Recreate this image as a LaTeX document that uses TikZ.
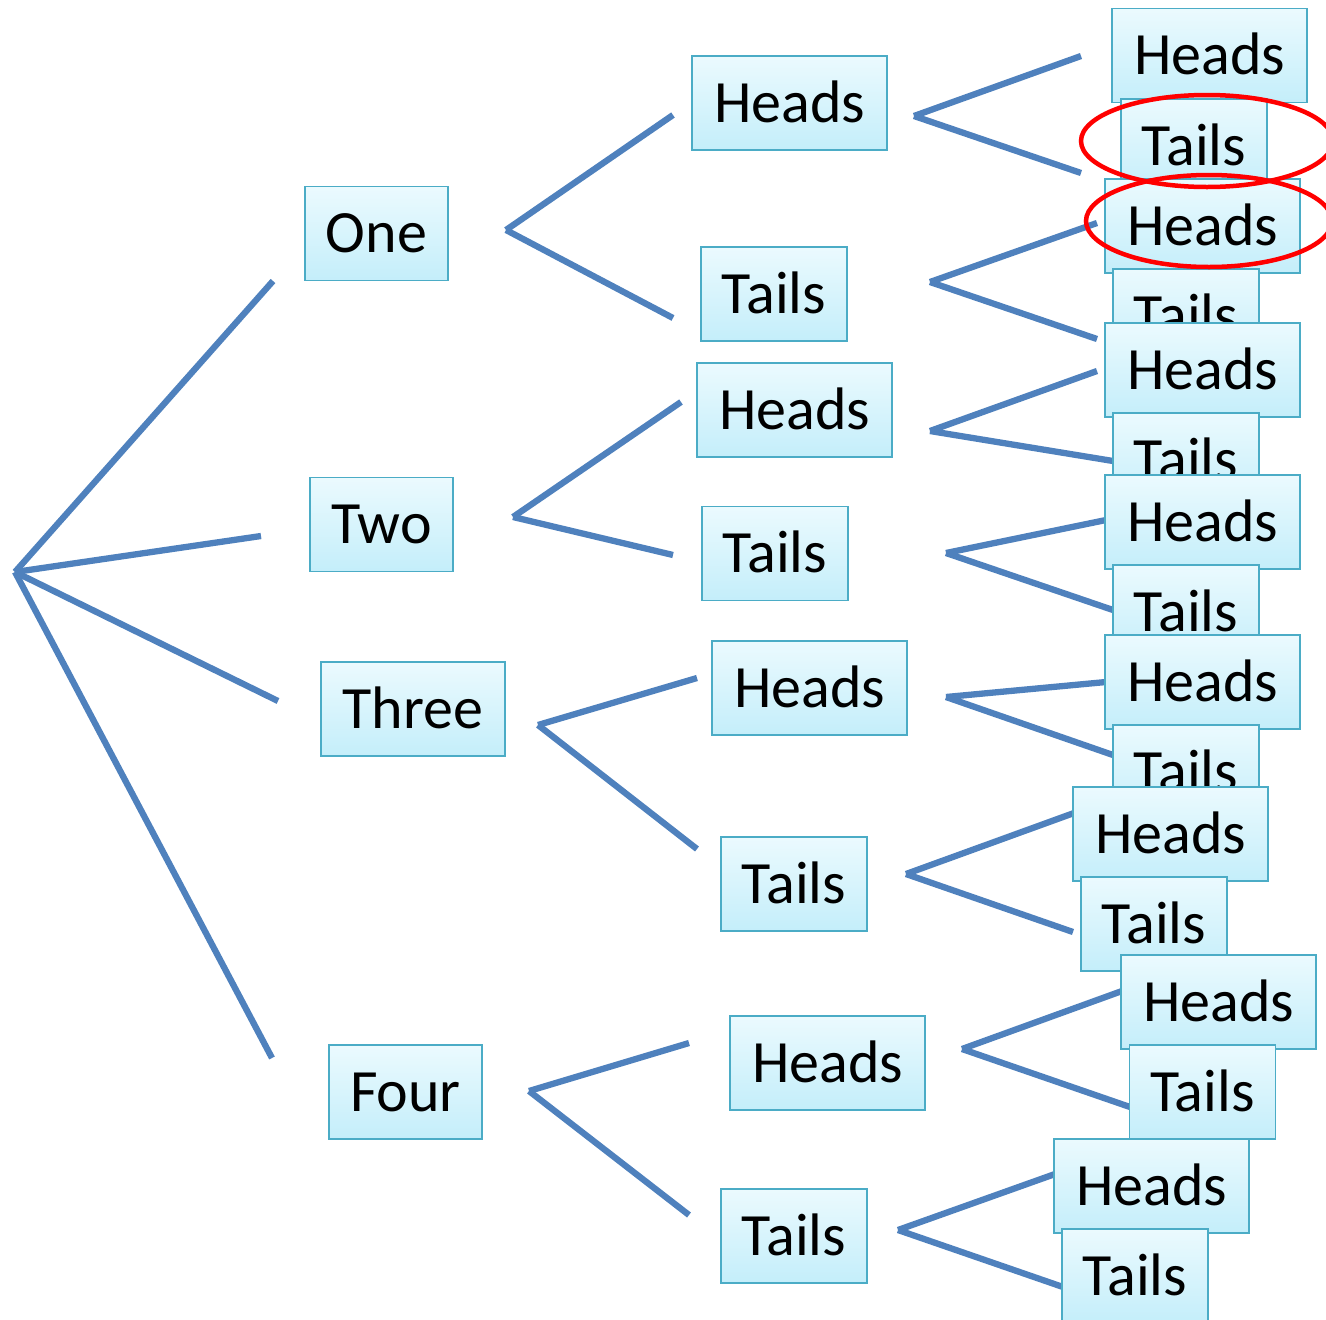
\documentclass[tikz,border=0pt]{standalone}
\usepackage{fontspec}
\setmainfont{Carlito}
\usetikzlibrary{shapes.geometric}
\definecolor{linec}{HTML}{4F81BD}
\definecolor{boxborder}{HTML}{4BACC6}
\definecolor{boxtop}{HTML}{EBFAFE}
\definecolor{boxbot}{HTML}{C4EEFA}
\tikzset{
  box/.style={draw=boxborder, line width=1.8pt, top color=boxtop, bottom color=boxbot,
    inner sep=0pt, minimum height=94pt, font=\fontsize{60}{72}\selectfont,
    text height=38pt, text depth=0pt},
  hbox/.style={box, minimum width=195pt},
  tbox/.style={box, minimum width=146pt},
  branch/.style={draw=linec, line width=6.3pt},
  mark ring/.style={ellipse, draw=red, line width=4.5pt, inner sep=0pt}
}
\begin{document}
\begin{tikzpicture}[x=1pt,y=-1pt]
\useasboundingbox (0,0) rectangle (1326,1320);
% coordinates for the branches
\coordinate (root) at (15,572);
\coordinate (r1) at (273,281);
\coordinate (r2) at (261,536);
\coordinate (r3) at (278,701);
\coordinate (r4) at (272,1058);
\coordinate (p1) at (506,230);  \coordinate (p1a) at (673,115);  \coordinate (p1b) at (673,318);
\coordinate (p2) at (513,517);  \coordinate (p2a) at (681,402);  \coordinate (p2b) at (673,555);
\coordinate (p3) at (538,725);  \coordinate (p3a) at (697,678);  \coordinate (p3b) at (697,849);
\coordinate (p4) at (529,1091); \coordinate (p4a) at (689,1043); \coordinate (p4b) at (689,1215);
\coordinate (q1) at (914,116);  \coordinate (q1a) at (1081,56);  \coordinate (q1b) at (1081,173);
\coordinate (q2) at (930,282);  \coordinate (q2a) at (1097,223); \coordinate (q2b) at (1097,339);
\coordinate (q3) at (930,431);  \coordinate (q3a) at (1097,371); \coordinate (q3b) at (1113,461);
\coordinate (q4) at (946,553);  \coordinate (q4a) at (1106,520); \coordinate (q4b) at (1113,610);
\coordinate (q5) at (946,697);  \coordinate (q5a) at (1106,682); \coordinate (q5b) at (1113,755);
\coordinate (q6) at (906,874);  \coordinate (q6a) at (1074,813); \coordinate (q6b) at (1073,932);
\coordinate (q7) at (962,1049); \coordinate (q7a) at (1122,991); \coordinate (q7b) at (1130,1107);
\coordinate (q8) at (898,1230); \coordinate (q8a) at (1055,1174);\coordinate (q8b) at (1063,1287);
% branches
\foreach \e in {r1,r2,r3,r4}{
  \draw[branch] (root) -- (\e);
}
\foreach \p in {p1,p2,p3,p4,q1,q2,q3,q4,q5,q6,q7,q8}{
  \draw[branch] (\p) -- (\p a);
  \draw[branch] (\p) -- (\p b);
}
% level 1
\node[box, minimum width=143pt] (one) at (376.5,233.5) {One};
\node[box, minimum width=143pt] (two) at (381.5,524.5) {Two};
\node[box, minimum width=184pt] (three) at (413,709) {Three};
\node[box, minimum width=153pt] (four) at (405.5,1092) {Four};
% level 2
\node[hbox] (oh) at (789.5,103) {Heads};
\node[tbox] (ot) at (774,294) {Tails};
\node[hbox] (wh) at (794.5,410) {Heads};
\node[tbox] (wt) at (775,553.5) {Tails};
\node[hbox] (th) at (809.5,688) {Heads};
\node[tbox] (tt) at (794,884) {Tails};
\node[hbox] (fh) at (827.5,1063) {Heads};
\node[tbox] (ft) at (794,1236) {Tails};
% level 3
\node[hbox] (l1) at (1209.5,55.5) {Heads};
\node[tbox] (l2) at (1194,146) {Tails};
\node[hbox] (l3) at (1202.5,226) {Heads};
\node[tbox] (l4) at (1186,316) {Tails};
\node[hbox] (l5) at (1202.5,370) {Heads};
\node[tbox] (l6) at (1186,460) {Tails};
\node[hbox] (l7) at (1202.5,522) {Heads};
\node[tbox] (l8) at (1186,612) {Tails};
\node[hbox] (l9) at (1202.5,682) {Heads};
\node[tbox] (l10) at (1186,772) {Tails};
\node[hbox] (l11) at (1170.5,834) {Heads};
\node[tbox] (l12) at (1154,924) {Tails};
\node[hbox] (l13) at (1218.5,1002) {Heads};
\node[tbox] (l14) at (1202.5,1092) {Tails};
\node[hbox] (l15) at (1151.5,1186) {Heads};
\node[tbox] (l16) at (1135,1276) {Tails};
% red rings
\node[mark ring, minimum width=252pt, minimum height=92pt] (ring1) at (1207,141) {};
\node[mark ring, minimum width=246pt, minimum height=92pt] (ring2) at (1209,221) {};
\end{tikzpicture}
\end{document}
